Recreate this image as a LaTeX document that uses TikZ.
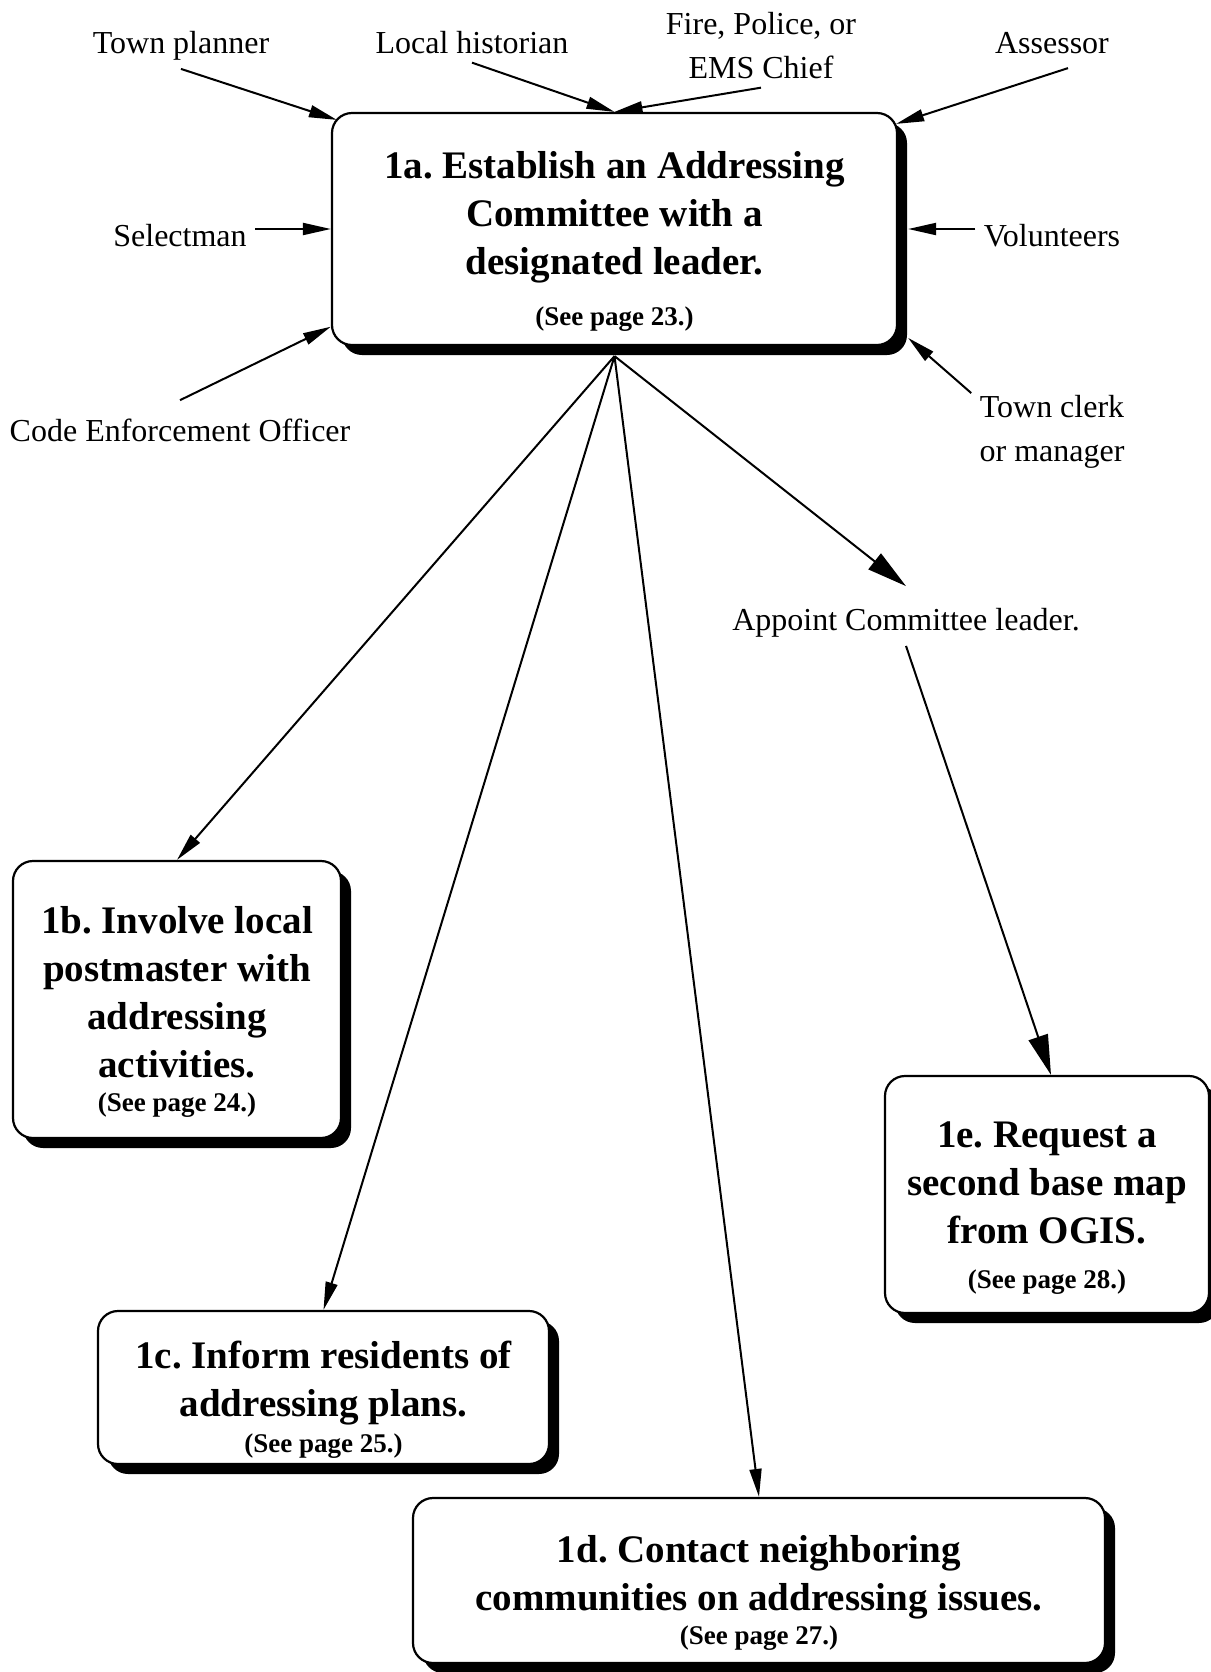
\documentclass[tikz,border=0pt]{standalone}
\usepackage{fontspec}
\setmainfont{Liberation Serif}
\usepackage{tikz}
\usetikzlibrary{calc}
\usetikzlibrary{shadows}
\usetikzlibrary{arrows.meta}

\frenchspacing
\newcommand{\seepg}{\fontsize{13.5pt}{24pt}\selectfont}
\newcommand{\topgap}{\rule{0pt}{26pt}}

\begin{document}
\begin{tikzpicture}[x=0.5pt,y=-0.5pt,
    stepbox/.style={draw, line width=1.1pt, rounded corners=10pt, fill=white,
      align=center, inner sep=0pt, font=\bfseries\fontsize{19.5pt}{24pt}\selectfont,
      drop shadow={shadow xshift=5pt, shadow yshift=-5pt, fill=black, opacity=1}},
    who/.style={align=center, inner sep=4pt, font=\fontsize{16pt}{22pt}\selectfont},
    arr/.style={line width=1pt, -{Triangle[length=14pt,width=6pt]}},
    bigarr/.style={line width=1pt, -{Triangle[length=20pt,width=10pt]}}]
   \useasboundingbox (0,0) rectangle (1211,1672);

    % 步骤框
    \node[stepbox, minimum width=282.5pt, minimum height=116pt] (a1) at (614.5,229)
      {\topgap 1a. Establish an Addressing\\ Committee with a\\ designated leader.\\[1.7pt] \seepg (See page 23.)};
    \node[stepbox, minimum width=164pt, minimum height=138.5pt] (b1) at (177,999.5)
      {\topgap 1b. Involve local\\ postmaster with\\ addressing\\ activities.\\[-6.8pt] \seepg (See page 24.)};
    \node[stepbox, minimum width=225.5pt, minimum height=76.5pt] (c1) at (323.5,1387.5)
      {\topgap 1c. Inform residents of\\ addressing plans.\\[-6.3pt] \seepg (See page 25.)};
    \node[stepbox, minimum width=346pt, minimum height=82.5pt] (d1) at (759,1580.5)
      {\topgap 1d. Contact neighboring\\ communities on addressing issues.\\[-6.8pt] \seepg (See page 27.)};
    \node[stepbox, minimum width=162pt, minimum height=118.5pt] (e1) at (1047,1194.5)
      {\topgap 1e. Request a\\ second base map\\ from OGIS.\\[-1.5pt] \seepg (See page 28.)};

    % 委员会成员
    \node[who] (tp) at (181,46) {Town planner};
    \node[who] (lh) at (472,43) {Local historian};
    \node[who] (fire) at (761,46) {Fire, Police, or\\ EMS Chief};
    \node[who] (as) at (1052,43) {Assessor};
    \node[who] (sel) at (180,236) {Selectman};
    \node[who] (vol) at (1052,236) {Volunteers};
    \node[who] (code) at (180,430) {Code Enforcement Officer};
    \node[who] (tc) at (1052,432) {Town clerk\\ or manager};
    \node[who] (app) at (906,623) {Appoint Committee leader.};

    % 指向1a的箭头
    \draw[arr] (tp.south) -- ([xshift=3pt,yshift=-4pt]a1.north west);
    \draw[arr] (lh.south) -- (a1.north);
    \draw[arr] (fire.south) -- (a1.north);
    \draw[arr] ([xshift=8pt,yshift=-3pt]as.south) -- ([xshift=-1pt,yshift=-6pt]a1.north east);
    \draw[arr] (sel.east |- a1.west) -- (a1.west);
    \draw[arr] (vol.west |- a1.east) -- ([xshift=5pt]a1.east);
    \draw[arr] ([yshift=5pt]code.north) -- (a1.199);
    \draw[arr] ([yshift=-3pt]tc.north west) -- ([xshift=5pt]a1.-21);

    % 从1a出发的箭头
    \coordinate (a1s) at ([yshift=-5pt]a1.south);
    \draw[arr] (a1s) -- (b1.north);
    \draw[arr] (a1s) -- (c1.north);
    \draw[arr] (a1s) -- (d1.north);
    \draw[bigarr] (a1s) -- ([yshift=7pt]app.north);
    \draw[bigarr] (app.south) -- ([xshift=2pt]e1.north);

\end{tikzpicture}
\end{document}
